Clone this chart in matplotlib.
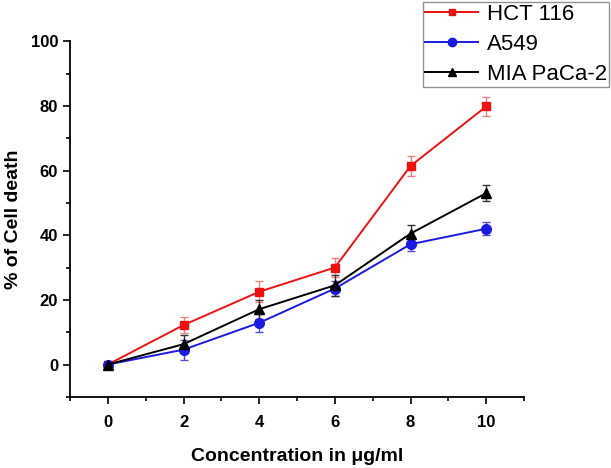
import matplotlib.pyplot as plt
from matplotlib.lines import Line2D

plt.rcParams['font.family'] = ['Liberation Sans', 'DejaVu Sans']

# --- data ---
conc = [0, 2, 4, 6, 8, 10]
hct116 = [0, 12.2, 22.5, 30.0, 61.4, 79.8]
hct116_err = [0.8, 2.4, 3.2, 2.8, 3.2, 2.8]
a549 = [0, 4.6, 12.9, 23.5, 37.2, 42.0]
a549_err = [0.8, 3.1, 2.7, 2.4, 2.0, 2.0]
mia = [0, 6.3, 17.1, 24.5, 40.5, 53.0]
mia_err = [0.8, 2.8, 2.9, 3.2, 2.5, 2.5]

fig = plt.figure(figsize=(6.11, 4.68), dpi=100)
ax = fig.add_axes([0.1146, 0.152, 0.743, 0.760])

ax.errorbar(conc, hct116, yerr=hct116_err, color='#ee1111', marker='s', markersize=6,
            linewidth=1.4, ecolor='#f08080', elinewidth=1, capsize=3)
ax.errorbar(conc, a549, yerr=a549_err, color='#1a1ae0', marker='o', markersize=7,
            linewidth=1.4, ecolor='#5050d0', elinewidth=1, capsize=3)
ax.errorbar(conc, mia, yerr=mia_err, color='black', marker='^', markersize=7,
            linewidth=1.4, ecolor='#333333', elinewidth=1, capsize=3)

ax.set_xlim(-1, 11)
ax.set_ylim(-10, 100)
ax.set_xticks(conc)
ax.set_xticks([-1, 1, 3, 5, 7, 9, 11], minor=True)
ax.set_yticks([0, 20, 40, 60, 80, 100])
ax.set_yticks([-10, 10, 30, 50, 70, 90], minor=True)

for side in ['top', 'right']:
    ax.spines[side].set_visible(False)
for side in ['left', 'bottom']:
    ax.spines[side].set_linewidth(1.3)

ax.tick_params(axis='both', which='major', direction='out', length=5, width=1.2,
               labelsize=12)
ax.tick_params(axis='both', which='minor', direction='out', length=3, width=1.2)
for lbl in ax.get_xticklabels() + ax.get_yticklabels():
    lbl.set_fontweight('bold')
ax.tick_params(axis='x', pad=8)

ax.set_xlabel('Concentration in μg/ml', fontsize=14, fontweight='bold', labelpad=13)
ax.set_ylabel('% of Cell death', fontsize=14, fontweight='bold', labelpad=6)

# legend shows plain line + marker, no error bars
handles = [
    Line2D([], [], color='#ee1111', marker='s', markersize=5, linewidth=1.4),
    Line2D([], [], color='#1a1ae0', marker='o', markersize=6, linewidth=1.4),
    Line2D([], [], color='black', marker='^', markersize=6, linewidth=1.4),
]
labels = ['HCT 116', 'A549', 'MIA PaCa-2']
leg = fig.legend(handles, labels, loc='upper right', bbox_to_anchor=(0.997, 0.995),
                 fontsize=16, frameon=True, fancybox=False, edgecolor='#777777',
                 handlelength=2.4, borderpad=0.08, labelspacing=0.4,
                 handletextpad=0.4, borderaxespad=0)
leg.get_frame().set_linewidth(1.0)

plt.savefig('out.png', dpi=100)
